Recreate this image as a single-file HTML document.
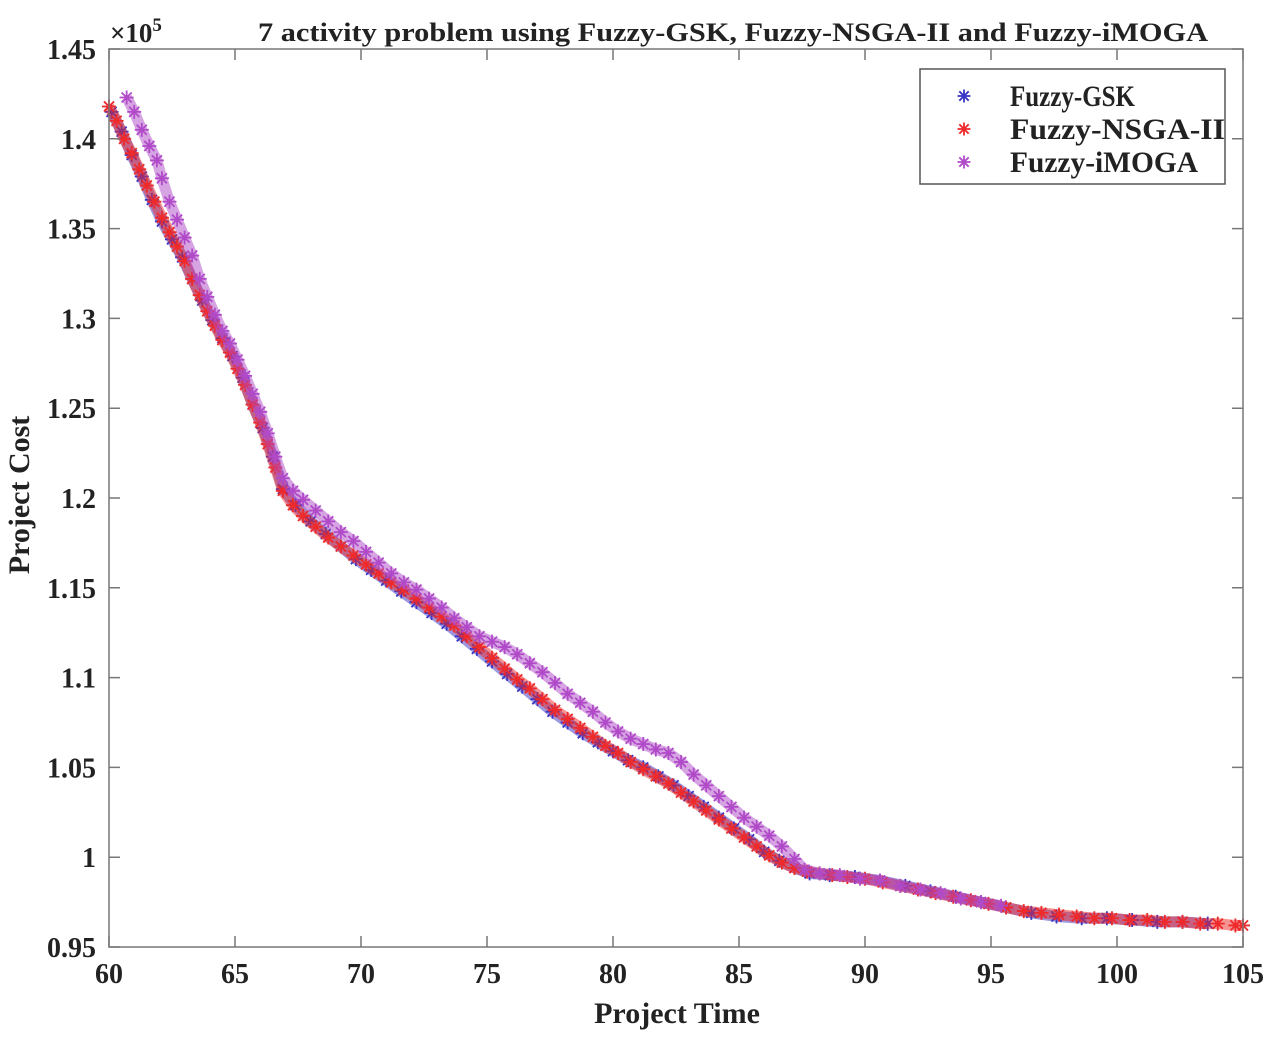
<!DOCTYPE html>
<html><head><meta charset="utf-8"><style>
html,body{margin:0;padding:0;background:#fff;}
svg text{font-family:"Liberation Serif",serif;font-weight:bold;fill:#222;}
</style></head><body>
<svg id="chart" width="1280" height="1040" xmlns="http://www.w3.org/2000/svg">
<g id="marks"></g>
<g id="axes"></g>
</svg>
<script>
const xTicks=[60,65,70,75,80,85,90,95,100,105];
const yTicks=[0.95,1,1.05,1.1,1.15,1.2,1.25,1.3,1.35,1.4,1.45];
const yTickLabels=["0.95","1","1.05","1.1","1.15","1.2","1.25","1.3","1.35","1.4","1.45"];
const seriesNames=["Fuzzy-GSK","Fuzzy-NSGA-II","Fuzzy-iMOGA"];
const gskX=[60.1,60.5,60.9,61.3,61.7,62.1,62.5,62.9,63.3,63.7,64.1,64.5,64.9,65.3,65.7,66.1,66.5,66.9,67.4,68.0,68.6,69.2,69.8,70.4,71.0,71.6,72.2,72.8,73.4,74.0,74.6,75.2,75.8,76.4,77.0,77.6,78.2,78.8,79.4,80.0,80.6,81.2,81.8,82.4,83.0,83.6,84.2,84.8,85.4,86.0,86.6,87.2,87.8,88.6,89.6,90.6,91.6,92.6,93.6,94.6,95.6,96.6,97.6,98.6,99.6,100.6,101.6,102.6,103.6];
const gskY=[1.415,1.404,1.391,1.379,1.366,1.354,1.344,1.334,1.322,1.310,1.299,1.289,1.279,1.267,1.252,1.239,1.223,1.205,1.196,1.187,1.180,1.173,1.166,1.160,1.154,1.148,1.142,1.136,1.130,1.123,1.116,1.109,1.102,1.095,1.088,1.081,1.075,1.069,1.064,1.059,1.054,1.050,1.045,1.040,1.034,1.028,1.022,1.016,1.010,1.003,0.998,0.994,0.991,0.990,0.989,0.987,0.984,0.981,0.978,0.975,0.972,0.969,0.967,0.966,0.966,0.965,0.964,0.964,0.963];
const nsgaX=[60.0,60.3,60.6,60.9,61.2,61.5,61.8,62.1,62.4,62.7,63.0,63.3,63.6,63.9,64.2,64.5,64.8,65.1,65.4,65.7,66.0,66.3,66.6,66.9,67.3,67.7,68.2,68.7,69.2,69.7,70.2,70.7,71.2,71.7,72.2,72.7,73.2,73.7,74.2,74.7,75.2,75.7,76.2,76.7,77.2,77.7,78.2,78.7,79.2,79.7,80.2,80.7,81.2,81.7,82.2,82.7,83.2,83.7,84.2,84.7,85.2,85.7,86.2,86.7,87.2,87.7,88.2,88.7,89.3,90.0,90.7,91.4,92.1,92.8,93.5,94.2,94.9,95.6,96.3,97.0,97.7,98.4,99.1,99.8,100.5,101.2,101.9,102.6,103.3,104.0,104.7,105.0];
const nsgaY=[1.418,1.410,1.400,1.392,1.383,1.374,1.365,1.356,1.348,1.340,1.332,1.322,1.313,1.304,1.296,1.288,1.281,1.272,1.263,1.252,1.242,1.230,1.217,1.204,1.196,1.190,1.184,1.178,1.173,1.168,1.163,1.158,1.153,1.149,1.144,1.139,1.134,1.129,1.123,1.117,1.111,1.105,1.099,1.094,1.088,1.082,1.077,1.072,1.067,1.062,1.058,1.053,1.049,1.045,1.041,1.036,1.031,1.026,1.021,1.016,1.011,1.006,1.001,0.997,0.994,0.992,0.991,0.990,0.989,0.988,0.986,0.984,0.982,0.980,0.978,0.976,0.974,0.972,0.970,0.969,0.968,0.967,0.966,0.966,0.965,0.965,0.964,0.964,0.963,0.963,0.962,0.962];
const imogaX=[60.7,61.0,61.3,61.6,61.9,62.1,62.4,62.7,63.0,63.3,63.6,63.9,64.2,64.5,64.8,65.1,65.4,65.7,66.0,66.3,66.6,66.9,67.3,67.7,68.2,68.7,69.2,69.7,70.2,70.7,71.2,71.7,72.2,72.7,73.2,73.7,74.2,74.7,75.2,75.7,76.2,76.7,77.2,77.7,78.2,78.7,79.2,79.7,80.2,80.7,81.2,81.7,82.2,82.7,83.2,83.7,84.2,84.7,85.2,85.7,86.2,86.7,87.2,87.6,88.2,89.0,89.8,90.6,91.4,92.2,93.0,93.8,94.6,95.4];
const imogaY=[1.423,1.415,1.405,1.396,1.388,1.378,1.365,1.355,1.345,1.335,1.322,1.312,1.302,1.293,1.286,1.277,1.268,1.258,1.248,1.236,1.223,1.211,1.204,1.199,1.193,1.187,1.181,1.176,1.170,1.164,1.158,1.153,1.149,1.144,1.139,1.133,1.128,1.123,1.120,1.117,1.113,1.108,1.103,1.097,1.091,1.086,1.081,1.075,1.070,1.066,1.063,1.060,1.058,1.053,1.046,1.040,1.034,1.028,1.022,1.017,1.012,1.006,0.999,0.993,0.991,0.990,0.988,0.987,0.984,0.982,0.980,0.977,0.975,0.973];

const L=109,R=1243,T=49,B=947,xMin=60,xMax=105,yMin=0.95,yMax=1.45;
const sx=v=>L+(v-xMin)/(xMax-xMin)*(R-L);
const sy=v=>B-(v-yMin)/(yMax-yMin)*(B-T);
const NS="http://www.w3.org/2000/svg";
const marks=document.getElementById('marks'), axes=document.getElementById('axes');
function mk(tag,attrs,parent){const e=document.createElementNS(NS,tag);for(const k in attrs)e.setAttribute(k,attrs[k]);parent.appendChild(e);return e;}
function star(g,cx,cy,s){
  let d=`M${cx-s},${cy}L${cx+s},${cy}M${cx},${cy-s}L${cx},${cy+s}`;
  const k=s*0.72;d+=`M${cx-k},${cy-k}L${cx+k},${cy+k}M${cx-k},${cy+k}L${cx+k},${cy-k}`;
  return mk('path',{d:d,'stroke-width':1.8,fill:'none'},g);
}
const series=[[gskX,gskY,'#3a34c4','series-fuzzy-gsk'],[nsgaX,nsgaY,'#ee2a2a','series-fuzzy-nsga-ii'],[imogaX,imogaY,'#b04ac8','series-fuzzy-imoga']];
series.forEach(([xs,ys,col,name])=>{
  const g=mk('g',{stroke:col},marks);
  
  
  const pts=xs.map((x,i)=>sx(x)+','+sy(ys[i])).join(' ');
  const pl=mk('polyline',{points:pts,fill:'none','stroke-width':11,'stroke-opacity':0.5,'stroke-linejoin':'round'},g);
  
  
  xs.forEach((x,i)=>{
    const p=star(g,sx(x),sy(ys[i]),7);
    
    
  });
});
const fr=mk('rect',{x:L,y:T,width:R-L,height:B-T,fill:'none',stroke:'#777','stroke-width':1.5},axes);


xTicks.forEach(v=>{
  const x=sx(v);
  mk('path',{d:`M${x},${B}v-11M${x},${T}v11`,stroke:'#777','stroke-width':1.5},axes);
  const t=mk('text',{x:x,y:983,'text-anchor':'middle','font-size':28},axes);t.textContent=v;
  
  
});
yTicks.forEach((v,i)=>{
  const y=sy(v);
  mk('path',{d:`M${L},${y}h11M${R},${y}h-11`,stroke:'#777','stroke-width':1.5},axes);
  const t=mk('text',{x:96,y:y+10,'text-anchor':'end','font-size':28},axes);t.textContent=yTickLabels[i];
  
  
});
const ex=mk('text',{x:110,y:42,'font-size':27,'font-weight':'normal'},axes);
ex.innerHTML='×10<tspan dy="-11" font-size="19">5</tspan>';


const ti=mk('text',{x:258,y:41,'font-size':26,textLength:950,lengthAdjust:'spacingAndGlyphs'},axes);
ti.textContent='7 activity problem using Fuzzy-GSK, Fuzzy-NSGA-II and Fuzzy-iMOGA';


const xt=mk('text',{x:677,y:1023,'text-anchor':'middle','font-size':30},axes);xt.textContent='Project Time';


const yt=mk('text',{x:0,y:0,'text-anchor':'middle','font-size':30,transform:'translate(29,495) rotate(-90)'},axes);yt.textContent='Project Cost';


const lg=mk('g',{},axes);


mk('rect',{x:920,y:69,width:305,height:115,fill:'#fff',stroke:'#555','stroke-width':1.5},lg);
seriesNames.forEach((n,i)=>{
  const y=96+i*33;
  const sg=mk('g',{stroke:series[i][2]},lg);
  star(sg,964,y,6.5);
  const t=mk('text',{x:1010,y:y+10,'font-size':30,textLength:(i==0?125:(i==1?215:188)),lengthAdjust:'spacingAndGlyphs'},lg);t.textContent=n;
  
  
});
</script>
</body></html>
